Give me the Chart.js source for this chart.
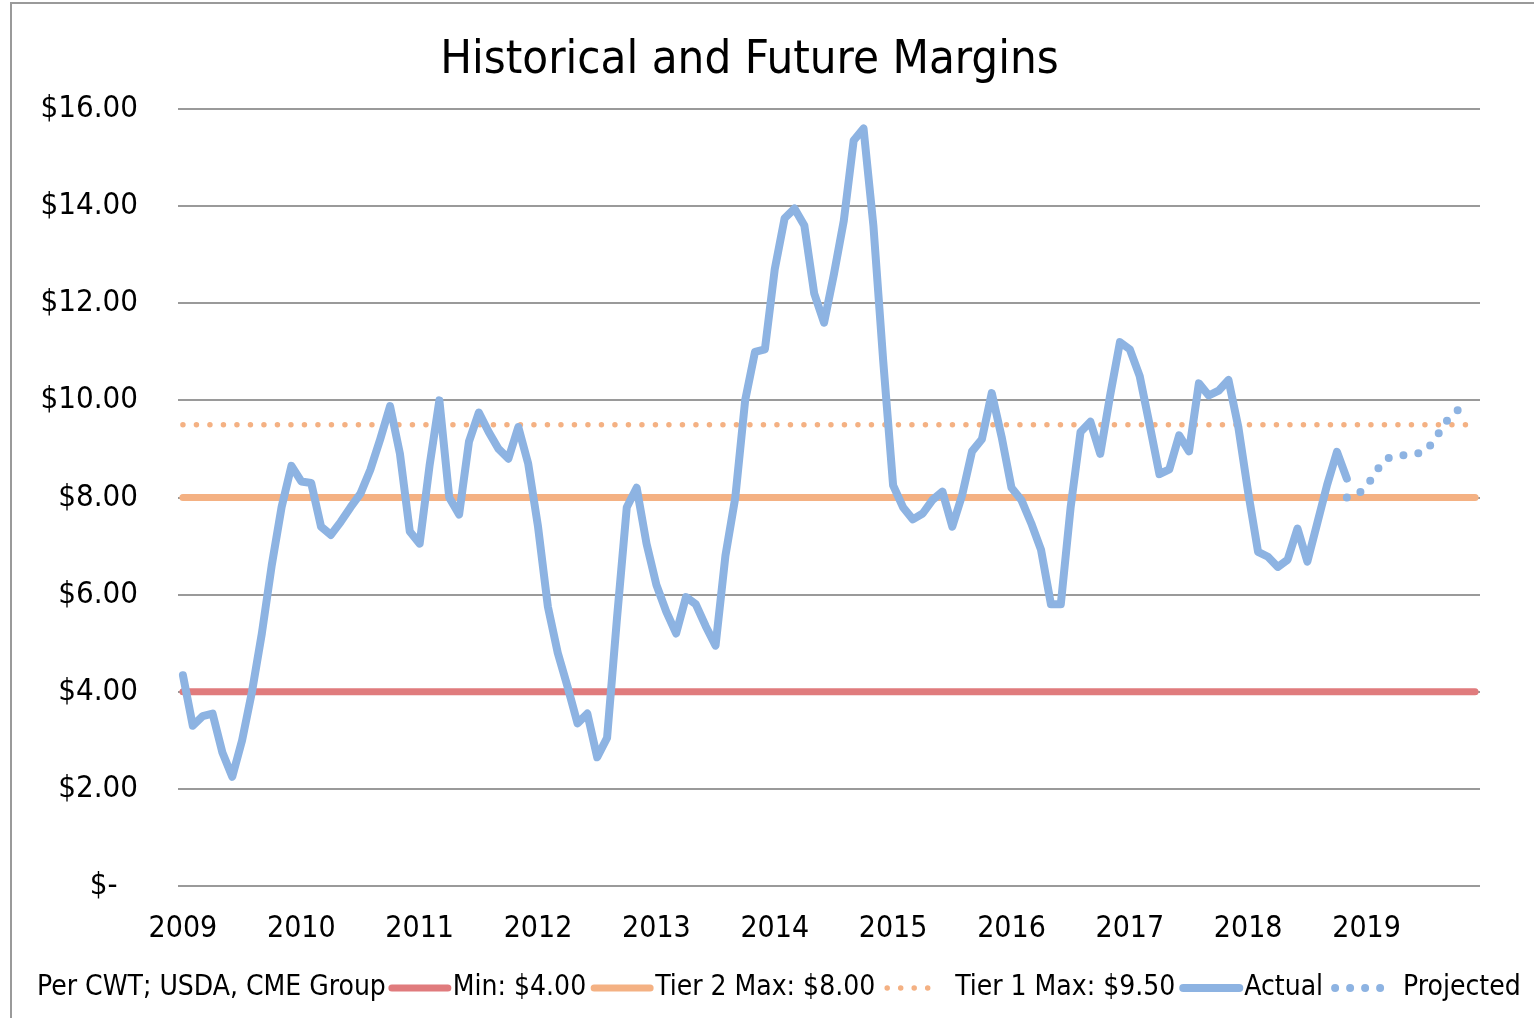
<!DOCTYPE html>
<html>
<head>
<meta charset="utf-8">
<title>Historical and Future Margins</title>
<script src="https://cdn.jsdelivr.net/npm/chart.js@4.4.1/dist/chart.umd.min.js"></script>
<style>
  html, body { margin: 0; padding: 0; background: #fff; }
  #wrap { position: relative; width: 1534px; height: 1018px; overflow: hidden; }
  #frame {
    position: absolute; left: 10px; top: 2px; width: 1530px; height: 1020px;
    border-left: 2px solid #9a9a9a; border-top: 2px solid #9a9a9a;
    pointer-events: none;
  }
</style>
</head>
<body>
<div id="wrap">
  <canvas id="marginChart" width="1534" height="1018"></canvas>
  <div id="frame"></div>
</div>
<script>
// Chart data
const years = ['2009', '2010', '2011', '2012', '2013', '2014', '2015', '2016', '2017', '2018', '2019'];
const months = ['Jan', 'Feb', 'Mar', 'Apr', 'May', 'Jun', 'Jul', 'Aug', 'Sep', 'Oct', 'Nov', 'Dec'];

// Monthly margin, $ per cwt, Jan 2009 - Nov 2018
const actualMargins = [
    4.34, 3.30, 3.50, 3.55, 2.75, 2.25, 3.00, 4.00, 5.20, 6.60, 7.80, 8.65,
    8.33, 8.30, 7.40, 7.23, 7.50, 7.80, 8.08, 8.57, 9.20, 9.88, 8.90, 7.30,
    7.05, 8.65, 10.00, 8.00, 7.65, 9.15, 9.75, 9.35, 9.00, 8.80, 9.45, 8.70,
    7.40, 5.75, 4.80, 4.10, 3.35, 3.55, 2.65, 3.05, 5.50, 7.80, 8.20, 7.05,
    6.20, 5.65, 5.20, 5.95, 5.80, 5.35, 4.95, 6.80, 8.00, 10.00, 11.00, 11.05,
    12.70, 13.75, 13.95, 13.60, 12.20, 11.60, 12.60, 13.70, 15.35, 15.60, 13.60, 10.80,
    8.25, 7.80, 7.55, 7.67, 7.95, 8.12, 7.40, 8.05, 8.95, 9.20, 10.15, 9.25,
    8.20, 7.95, 7.47, 6.92, 5.80, 5.80, 7.80, 9.35, 9.56, 8.90, 10.10, 11.20,
    11.05, 10.50, 9.50, 8.48, 8.58, 9.28, 8.95, 10.35, 10.10, 10.20, 10.42, 9.45,
    8.10, 6.88, 6.78, 6.57, 6.72, 7.36, 6.68, 7.47, 8.26, 8.94, 8.39
];

// Projection, Nov 2018 - Nov 2019
const projectedStart = 'Nov 2018';
const projectedMargins = [8.00, 8.05, 8.22, 8.55, 8.80, 8.85, 8.88, 8.90, 8.95, 9.22, 9.55, 9.75, 9.95];

// Program levels
const minMargin = 4.00;
const tier2Max = 8.00;
const tier1Max = 9.50;

const yTickLabels = ['$-\u2007\u200A', '$2.00', '$4.00', '$6.00', '$8.00', '$10.00', '$12.00', '$14.00', '$16.00'];
const sourceNote = 'Per CWT; USDA, CME Group';

const fontFamily = "'DejaVu Sans Condensed', 'DejaVu Sans', sans-serif";

// One category per month
const categories = [];
years.forEach(year => {
    months.forEach(month => categories.push(month + ' ' + year));
});
const firstMonth = categories[0];
const lastMonth = categories[categories.length - 1];
const projStartIndex = categories.indexOf(projectedStart);

function levelLine(value) {
    return [{ x: firstMonth, y: value }, { x: lastMonth, y: value }];
}

// Legend row under the axis: source note followed by the series samples
const footerLegend = {
    id: 'footerLegend',
    afterDraw(chart) {
        const ctx = chart.ctx;
        const y = 988;
        ctx.save();
        ctx.font = '28px ' + fontFamily;
        ctx.fillStyle = '#000';
        ctx.textBaseline = 'middle';
        ctx.textAlign = 'left';

        let x = 37;
        ctx.fillText(sourceNote, x, y);
        x += ctx.measureText(sourceNote).width;

        chart.data.datasets.forEach(ds => {
            const dotted = !!ds.borderDash;
            ctx.beginPath();
            ctx.setLineDash(ds.borderDash || []);
            ctx.lineCap = 'round';
            ctx.lineWidth = ds.borderWidth;
            ctx.strokeStyle = ds.borderColor;
            if (dotted) {
                ctx.moveTo(x + 10, y);
                ctx.lineTo(x + 64, y);
            } else {
                ctx.moveTo(x + 6, y);
                ctx.lineTo(x + 62, y);
            }
            ctx.stroke();
            ctx.setLineDash([]);
            x += dotted ? 78 : 67;
            ctx.fillText(ds.label, x, y);
            x += ctx.measureText(ds.label).width + 2;
        });
        ctx.restore();
    }
};

const ctx = document.getElementById('marginChart').getContext('2d');

const marginChart = new Chart(ctx, {
    type: 'line',
    data: {
        labels: categories,
        datasets: [{
            label: 'Min: $4.00',
            data: levelLine(minMargin),
            borderColor: '#E07B7D',
            borderWidth: 7,
            borderCapStyle: 'round',
            pointRadius: 0,
            order: 4
        }, {
            label: 'Tier 2 Max: $8.00',
            data: levelLine(tier2Max),
            borderColor: '#F4B183',
            borderWidth: 7,
            borderCapStyle: 'round',
            pointRadius: 0,
            order: 3
        }, {
            label: 'Tier 1 Max: $9.50',
            data: levelLine(tier1Max),
            borderColor: '#F4B183',
            borderWidth: 5.5,
            borderDash: [0, 13.5],
            borderCapStyle: 'round',
            pointRadius: 0,
            order: 2
        }, {
            label: 'Actual',
            data: actualMargins,
            borderColor: '#8DB3E2',
            borderWidth: 8,
            borderCapStyle: 'round',
            borderJoinStyle: 'round',
            tension: 0,
            pointRadius: 0,
            order: 0
        }, {
            label: 'Projected',
            data: projectedMargins.map((v, i) => ({ x: categories[projStartIndex + i], y: v })),
            borderColor: '#8DB3E2',
            borderWidth: 8,
            borderDash: [0, 15],
            borderCapStyle: 'round',
            pointRadius: 0,
            order: 1
        }]
    },
    options: {
        responsive: false,
        animation: false,
        devicePixelRatio: 1,
        layout: {
            padding: { left: 19, right: 54, top: 0, bottom: 52 }
        },
        plugins: {
            legend: { display: false },
            tooltip: { enabled: false },
            title: {
                display: true,
                text: 'Historical and Future Margins',
                color: '#000',
                font: { family: fontFamily, size: 47, weight: 'normal' },
                padding: { top: 33, bottom: 19.6 }
            }
        },
        scales: {
            x: {
                type: 'category',
                offset: true,
                grid: { display: false, drawTicks: false },
                border: { display: false },
                ticks: {
                    autoSkip: false,
                    maxRotation: 0,
                    padding: 25,
                    color: '#000',
                    font: { family: fontFamily, size: 30 },
                    callback: function(value, index) {
                        const label = categories[index];
                        return label.startsWith('Jan') ? label.slice(4) : null;
                    }
                },
                afterFit: function(scale) {
                    scale.height = 80;
                }
            },
            y: {
                min: 0,
                max: 16,
                grid: { color: '#9a9a9a', lineWidth: 2, drawTicks: false },
                border: { display: false },
                ticks: {
                    stepSize: 2,
                    padding: 40,
                    color: '#000',
                    font: { family: fontFamily, size: 31 },
                    callback: function(value, index) {
                        return yTickLabels[index];
                    }
                },
                afterFit: function(scale) {
                    scale.width = 159;
                }
            }
        }
    },
    plugins: [footerLegend]
});
</script>
</body>
</html>
